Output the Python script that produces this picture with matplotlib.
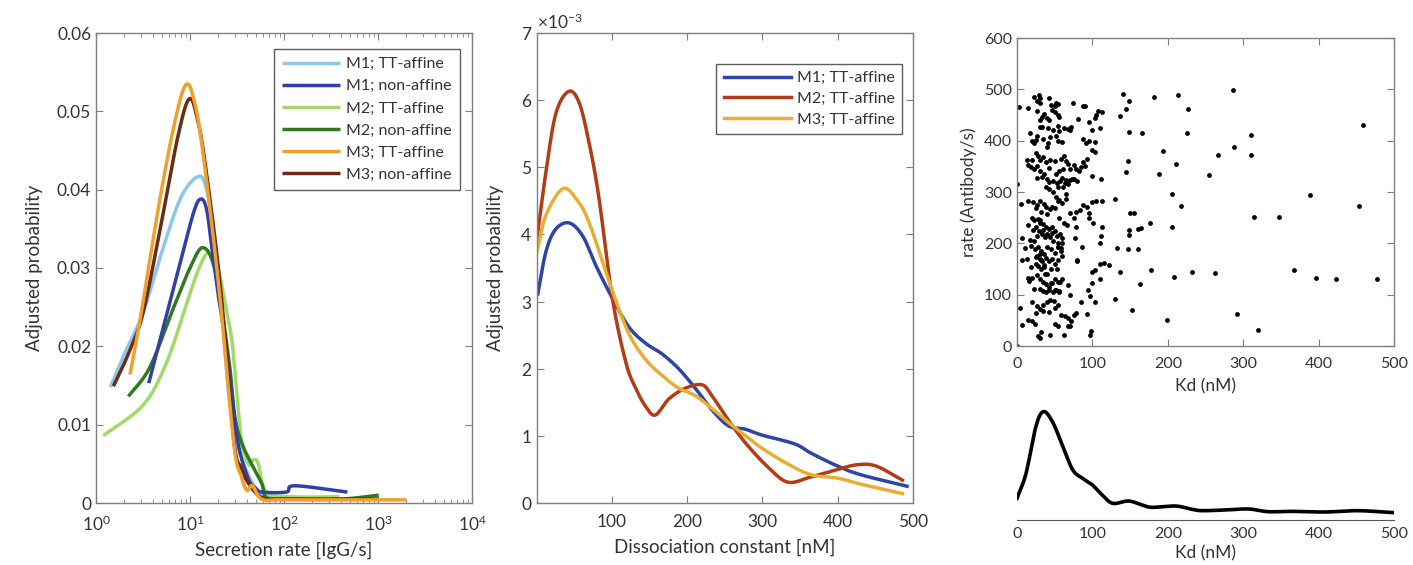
import numpy as np
import matplotlib
matplotlib.use("Agg")
import matplotlib.pyplot as plt
from matplotlib.ticker import LogLocator, NullFormatter, FixedLocator

plt.rcParams['font.family'] = ['Lato', 'DejaVu Sans']
plt.rcParams['mathtext.fontset'] = 'custom'
plt.rcParams['mathtext.rm'] = 'Lato'

# ---------------- Left panel data (secretion rate) ----------------
m1_tt_x = [1.42, 2.0, 3.17, 5.0, 8.0, 12.3, 15.0, 18.0, 22.0, 26.0, 32.0, 39.0, 50.0, 60.0, 100.0, 300.0]
m1_tt_y = [0.0148, 0.019, 0.0243, 0.032, 0.039, 0.0417, 0.040, 0.0344, 0.024, 0.0136, 0.0075, 0.0044, 0.0018, 0.0009, 0.0008, 0.0006]

m1_non_x = [3.64, 5.58, 8.0, 11.0, 13.0, 15.0, 17.3, 20.0, 23.9, 28.0, 33.0, 42.0, 50.0, 58.0, 106.0, 130.0, 473.0]
m1_non_y = [0.0153, 0.0238, 0.031, 0.0372, 0.0388, 0.0375, 0.0321, 0.0265, 0.0206, 0.0135, 0.0072, 0.0030, 0.0019, 0.0014, 0.0014, 0.0022, 0.0014]

m2_tt_x = [1.20, 3.17, 5.58, 9.06, 12.5, 15.9, 20.3, 24.0, 28.0, 32.0, 35.7, 42.0, 47.0, 53.0, 63.0, 100.0, 389.0]
m2_tt_y = [0.0086, 0.0125, 0.0178, 0.0252, 0.030, 0.0319, 0.0294, 0.025, 0.0206, 0.013, 0.0076, 0.0049, 0.0055, 0.0051, 0.0016, 0.0008, 0.0008]

m2_non_x = [2.21, 3.73, 6.56, 10.0, 13.8, 18.7, 25.9, 30.0, 35.7, 45.5, 58.0, 65.0, 100.0, 400.0, 1018.0]
m2_non_y = [0.0136, 0.0173, 0.0247, 0.030, 0.0326, 0.0294, 0.0183, 0.011, 0.0076, 0.0049, 0.0025, 0.0007, 0.0005, 0.0005, 0.0010]

m3_tt_x = [2.30, 3.0, 4.75, 7.0, 9.06, 11.0, 13.6, 20.3, 29.2, 35.0, 40.3, 46.0, 58.0, 100.0, 1000.0, 1995.0]
m3_tt_y = [0.0164, 0.024, 0.0386, 0.049, 0.0534, 0.0515, 0.0451, 0.0275, 0.0076, 0.0035, 0.0016, 0.0022, 0.0005, 0.0004, 0.0004, 0.0004]

m3_non_x = [1.53, 2.2, 3.17, 5.0, 7.5, 9.82, 12.0, 14.7, 21.1, 29.2, 35.0, 42.0, 58.0, 100.0, 1000.0]
m3_non_y = [0.0149, 0.019, 0.0243, 0.036, 0.047, 0.0516, 0.049, 0.0428, 0.0275, 0.0081, 0.0045, 0.0025, 0.0007, 0.0005, 0.0005]

left_labels = ['M1; TT-affine', 'M1; non-affine', 'M2; TT-affine', 'M2; non-affine', 'M3; TT-affine', 'M3; non-affine']
left_colors = ['#8cc6ea', '#3040a4', '#a3d968', '#2f7a1f', '#f0a02c', '#6a2c12']

# ---------------- Middle panel data (dissociation constant, x1e-3) ----------------
kd_m1_x = [2, 13, 26, 44, 62, 79, 101, 123, 145, 167, 189, 211, 233, 255, 277, 300, 343, 365, 400, 431, 492]
kd_m1_y = [3.11, 3.75, 4.08, 4.17, 3.97, 3.54, 3.05, 2.62, 2.38, 2.22, 2.0, 1.71, 1.39, 1.15, 1.10, 1.01, 0.88, 0.74, 0.55, 0.42, 0.25]

kd_m2_x = [1, 13, 26, 43, 57, 70, 83, 101, 119, 132, 145, 158, 176, 198, 220, 233, 259, 281, 308, 334, 365, 400, 426, 451, 486]
kd_m2_y = [3.94, 4.94, 5.80, 6.13, 5.96, 5.37, 4.56, 3.05, 2.09, 1.71, 1.44, 1.31, 1.55, 1.71, 1.76, 1.60, 1.17, 0.85, 0.53, 0.31, 0.39, 0.50, 0.57, 0.55, 0.34]

kd_m3_x = [1, 13, 35, 53, 70, 101, 123, 145, 167, 189, 211, 233, 255, 277, 299, 334, 365, 400, 431, 486]
kd_m3_y = [3.75, 4.29, 4.68, 4.53, 4.18, 3.16, 2.52, 2.14, 1.9, 1.71, 1.60, 1.41, 1.20, 1.01, 0.82, 0.58, 0.42, 0.37, 0.28, 0.14]

mid_labels = ['M1; TT-affine', 'M2; TT-affine', 'M3; TT-affine']
mid_colors = ['#2f45a6', '#b23c14', '#e8ae34']

# ---------------- Scatter data (Kd vs rate) ----------------
kd_pts = [
    22, 29, 31, 26, 42, 52, 51, 30, 45, 55,
    3, 14, 27, 36, 40, 50, 54, 33, 30, 46, 90, 74, 105, 108, 113, 103, 87,
    33, 41, 48, 55, 56, 62, 67, 72, 81, 70, 96, 100, 110, 20, 22, 27, 35, 41, 44, 52, 55, 60, 87, 92, 95, 99, 103, 104,
    13, 20, 25, 28, 31, 38, 44, 51, 58, 62, 65, 68, 75, 78, 88, 90, 93, 99, 112, 85, 82, 56,
    14, 18, 23, 27, 30, 33, 26, 36, 40, 43, 48, 53, 57, 60, 64, 68, 70, 73, 76, 80, 61, 70, 38, 42, 48, 55, 65, 0,
    15, 21, 27, 31, 36, 38, 44, 46, 50, 52, 55, 60, 65, 70, 75, 78, 83, 88, 93, 95, 100, 105, 113, 5, 40, 25, 32, 56, 62, 66, 78, 95, 101,
    20, 23, 28, 31, 35, 38, 42, 46, 50, 53, 57, 60, 25, 29, 33, 37, 26, 22, 44, 48, 55, 60, 7, 14, 110, 77, 113, 86, 112,
    11, 19, 24, 28, 32, 36, 40, 45, 50, 54, 58, 26, 30, 33, 38, 42, 47, 50, 55, 60, 25, 28, 32, 36, 45, 53, 79, 80, 7, 13, 100, 104, 110, 115, 122,
    16, 20, 26, 30, 34, 38, 42, 46, 50, 54, 30, 34, 39, 43, 48, 52, 56, 22, 57, 37, 60, 68, 70, 94, 100, 110, 97,
    4, 20, 26, 30, 35, 40, 44, 49, 55, 25, 35, 42, 50, 58, 64, 67, 70, 72, 85, 75, 78, 93, 104,
    7, 20, 24, 28, 30, 32, 44, 50, 54, 62, 68, 97, 98, 0, 15,
    30, 34, 40, 47, 54, 58, 30, 32, 36, 40, 45, 50, 56, 14, 19, 25, 17, 21, 56, 61, 65, 52, 43, 35, 40, 25, 17, 30, 43, 56,
    287, 459, 310, 288, 310, 266, 254, 388, 454, 314, 348, 367, 396, 423, 478, 292, 319,
    262, 232, 208, 199, 178, 163, 153, 136, 130, 132, 147, 160, 148, 149, 161, 165, 177, 206, 217, 205,
    193, 188, 211, 226, 227, 213, 182, 166, 149, 147, 145, 141, 148, 145, 137, 130, 150, 155,
]
rate_pts = [
    485, 488, 483, 478, 483, 474, 467, 473, 470, 471,
    465, 463, 458, 452, 445, 455, 450, 447, 440, 460, 468, 473, 450, 458, 455, 445, 467,
    427, 424, 420, 428, 418, 424, 422, 427, 443, 420, 436, 420, 425, 400, 395, 410, 403, 395, 407, 410, 400, 398, 404, 396, 400, 382, 378, 398,
    363, 362, 375, 370, 362, 358, 362, 360, 365, 370, 360, 355, 352, 345, 358, 350, 365, 332, 326, 348, 340, 340,
    352, 348, 345, 350, 340, 330, 328, 335, 325, 320, 322, 318, 322, 328, 318, 315, 324, 325, 325, 322, 345, 345, 310, 305, 300, 310, 296, 316,
    283, 280, 275, 282, 277, 270, 266, 270, 268, 290, 282, 278, 286, 260, 250, 262, 265, 275, 270, 260, 280, 283, 282, 277, 258, 268, 262, 250, 240, 235, 232, 250, 240,
    250, 245, 248, 240, 238, 232, 228, 220, 225, 215, 218, 210, 232, 225, 218, 212, 215, 205, 212, 205, 200, 200, 210, 235, 200, 210, 232, 192, 215,
    190, 195, 188, 192, 185, 180, 192, 188, 182, 192, 185, 175, 170, 165, 172, 165, 170, 160, 168, 175, 160, 155, 150, 158, 150, 150, 165, 168, 168, 170, 145, 148, 160, 162, 158,
    127, 132, 138, 130, 125, 120, 115, 122, 130, 125, 112, 108, 106, 110, 105, 110, 108, 112, 125, 140, 130, 118, 100, 110, 122, 130, 98,
    75, 85, 78, 72, 80, 85, 90, 88, 80, 65, 68, 67, 75, 60, 58, 55, 38, 48, 85, 60, 65, 63, 86,
    40, 48, 42, 20, 15, 28, 22, 42, 38, 22, 38, 22, 30, 0, 50,
    245, 226, 219, 232, 193, 190, 180, 167, 154, 141, 122, 109, 106, 132, 154, 174, 206, 226, 284, 310, 323, 336, 346, 368, 388, 401, 414, 427, 440, 446,
    499, 430, 411, 388, 372, 373, 334, 294, 273, 252, 252, 149, 132, 130, 130, 62, 31,
    143, 145, 134, 51, 149, 121, 70, 145, 91, 191, 188, 188, 216, 226, 227, 230, 240, 231, 273, 297,
    379, 336, 355, 415, 462, 488, 486, 414, 417, 361, 339, 490, 477, 462, 449, 287, 260, 260,
]

# ---------------- Density curve data ----------------
dens_x = [0, 12, 25, 35, 47, 61, 74, 87, 100, 113, 127, 148, 166, 179, 210, 232, 245, 276, 307, 333, 364, 408, 452, 500]
dens_y = [65, 140, 280, 325, 295, 220, 150, 125, 105, 75, 50, 57, 45, 38, 42, 32, 28, 30, 33, 25, 26, 24, 28, 22]


def catmull(xs, ys, n=30):
    """Uniform Catmull-Rom curve through the given points."""
    xs = np.asarray(xs, float)
    ys = np.asarray(ys, float)
    P = np.column_stack([xs, ys])
    P = np.vstack([2 * P[0] - P[1], P, 2 * P[-1] - P[-2]])
    out = []
    t = np.linspace(0, 1, n, endpoint=False)[:, None]
    for i in range(1, len(P) - 2):
        p0, p1, p2, p3 = P[i - 1], P[i], P[i + 1], P[i + 2]
        seg = 0.5 * ((2 * p1) + (-p0 + p2) * t + (2 * p0 - 5 * p1 + 4 * p2 - p3) * t ** 2
                     + (-p0 + 3 * p1 - 3 * p2 + p3) * t ** 3)
        out.append(seg)
    out.append(P[-2][None, :])
    out = np.vstack(out)
    return out[:, 0], out[:, 1]


# ---------------- Figure ----------------
W, H = 1413, 565
fig = plt.figure(figsize=(W / 100, H / 100), dpi=100)

axcol = '#7f7f7f'
txtcol = '#333333'


def style_box(ax):
    for s in ax.spines.values():
        s.set_color(axcol)
        s.set_linewidth(1.0)
    ax.tick_params(which='both', direction='in', top=True, right=True,
                   color=axcol, labelcolor=txtcol, labelsize=12.5)
    ax.tick_params(which='major', length=5)
    ax.tick_params(which='minor', length=3)
    ax.tick_params(axis='x', which='both', pad=8)


def frac(x0, y0, x1, y1):
    return [x0 / W, 1 - y1 / H, (x1 - x0) / W, (y1 - y0) / H]


# Left panel
ax1 = fig.add_axes(frac(96, 33, 472, 503))
series = [(m1_tt_x, m1_tt_y), (m1_non_x, m1_non_y), (m2_tt_x, m2_tt_y),
          (m2_non_x, m2_non_y), (m3_tt_x, m3_tt_y), (m3_non_x, m3_non_y)]
order = [0, 2, 3, 1, 5, 4]
lines = {}
for i in order:
    xs, ys = series[i]
    lx, ly = catmull(np.log10(xs), ys)
    ly = np.maximum(ly, 0)
    ln, = ax1.plot(10 ** lx, ly, color=left_colors[i], lw=2.5, label=left_labels[i],
                   solid_capstyle='butt')
    lines[i] = ln
ax1.set_xscale('log')
ax1.set_xlim(1, 1e4)
ax1.set_ylim(0, 0.06)
ax1.set_yticks([0, 0.01, 0.02, 0.03, 0.04, 0.05, 0.06])
ax1.set_yticklabels(['0', '0.01', '0.02', '0.03', '0.04', '0.05', '0.06'])
ax1.xaxis.set_major_locator(FixedLocator([1, 10, 100, 1000, 10000]))
ax1.xaxis.set_minor_locator(LogLocator(base=10, subs=np.arange(2, 10), numticks=20))
ax1.xaxis.set_minor_formatter(NullFormatter())
style_box(ax1)
ax1.set_xlabel('Secretion rate [IgG/s]', fontsize=13.5, color=txtcol, labelpad=6)
ax1.set_ylabel('Adjusted probability', fontsize=13.5, color=txtcol, labelpad=10)
leg1 = ax1.legend([lines[i] for i in range(6)], left_labels, loc='upper right',
                  bbox_to_anchor=(0.968, 0.966), fontsize=11.5, frameon=True, fancybox=False,
                  handlelength=3.6, handletextpad=0.4, borderpad=0.5, labelspacing=0.5,
                  edgecolor='#333333', borderaxespad=0)
leg1.get_frame().set_linewidth(1.0)
for t in leg1.get_texts():
    t.set_color(txtcol)

# Middle panel
ax2 = fig.add_axes(frac(537, 33, 913, 503))
mid_series = [(kd_m1_x, kd_m1_y), (kd_m2_x, kd_m2_y), (kd_m3_x, kd_m3_y)]
mlines = []
for (xs, ys), c, lab in zip(mid_series, mid_colors, mid_labels):
    cx, cy = catmull(xs, ys)
    ln, = ax2.plot(cx, np.asarray(cy) * 1e-3, color=c, lw=2.5, label=lab)
    mlines.append(ln)
ax2.set_xlim(1, 500)
ax2.set_ylim(0, 7e-3)
ax2.set_xticks([100, 200, 300, 400, 500])
ax2.set_yticks(np.arange(0, 8) * 1e-3)
ax2.ticklabel_format(axis='y', style='sci', scilimits=(-3, -3), useMathText=True)
style_box(ax2)
ax2.yaxis.get_offset_text().set_fontsize(12.5)
ax2.yaxis.get_offset_text().set_color(txtcol)
ax2.set_xlabel('Dissociation constant [nM]', fontsize=13.5, color=txtcol, labelpad=6)
ax2.set_ylabel('Adjusted probability', fontsize=13.5, color=txtcol, labelpad=12)
leg2 = ax2.legend(mlines, mid_labels, loc='upper right', bbox_to_anchor=(0.971, 0.934),
                  fontsize=11.5, frameon=True, fancybox=False, handlelength=4.2,
                  handletextpad=0.4, borderpad=0.45, labelspacing=0.4,
                  edgecolor='#333333', borderaxespad=0)
leg2.get_frame().set_linewidth(1.0)
for t in leg2.get_texts():
    t.set_color(txtcol)

# Scatter panel
ax3 = fig.add_axes(frac(1017, 38, 1394, 346))
ax3.scatter(kd_pts, rate_pts, s=12, color='black', linewidths=0)
ax3.set_xlim(0, 500)
ax3.set_ylim(0, 600)
ax3.set_xticks([0, 100, 200, 300, 400, 500])
ax3.set_yticks([0, 100, 200, 300, 400, 500, 600])
style_box(ax3)
ax3.tick_params(labelsize=11.5)
ax3.set_xlabel('Kd (nM)', fontsize=12.5, color=txtcol, labelpad=5)
ax3.set_ylabel('rate (Antibody/s)', fontsize=12.5, color=txtcol, labelpad=5)

# Density panel
ax4 = fig.add_axes(frac(1017, 405, 1394, 520))
cx, cy = catmull(dens_x, dens_y)
ax4.plot(cx, cy, color='black', lw=2.6)
ax4.set_xlim(0, 500)
ax4.set_ylim(0, 345)
for s in ['top', 'right', 'left']:
    ax4.spines[s].set_visible(False)
ax4.spines['bottom'].set_color('#555555')
ax4.set_yticks([])
ax4.set_xticks([0, 100, 200, 300, 400, 500])
ax4.tick_params(axis='x', direction='in', length=0, labelsize=11.5, labelcolor=txtcol, pad=5)
ax4.set_xlabel('Kd (nM)', fontsize=12.5, color=txtcol, labelpad=3)

fig.savefig('out.png', dpi=100)
